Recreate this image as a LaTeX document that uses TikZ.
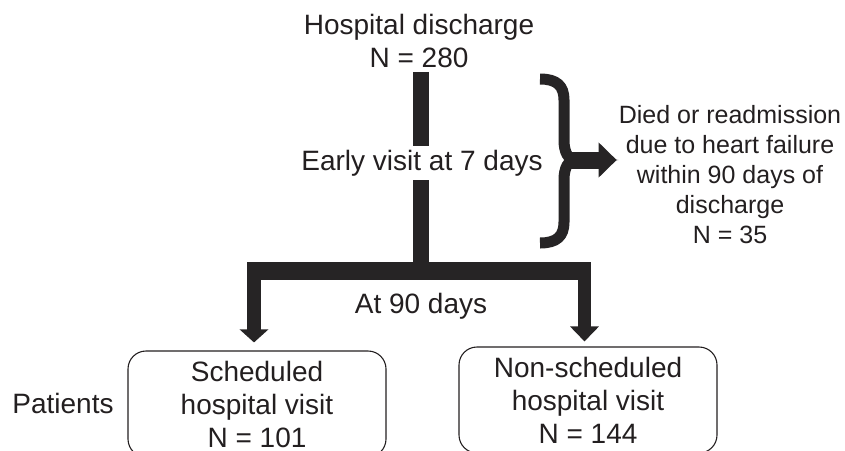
\documentclass[tikz,border=0pt]{standalone}
\usepackage{fontspec}
\setmainfont{Liberation Sans}
\usetikzlibrary{arrows.meta,calc}
\definecolor{ink}{HTML}{231F20}
\definecolor{barc}{HTML}{262425}
\begin{document}
\begin{tikzpicture}[x=1pt,y=-1pt,
  txt/.style={text=ink,align=center,inner sep=4pt,font=\fontsize{28}{33}\selectfont},
  small/.style={text=ink,align=center,inner sep=2pt,font=\fontsize{25}{30}\selectfont},
  box/.style={draw=ink,line width=1.1pt,rounded corners=18pt,minimum width=258pt,minimum height=106pt,
    text=ink,align=center,inner sep=0pt,font=\fontsize{28}{33}\selectfont},
  bar/.style={draw=barc,line cap=butt},
  brc/.style={draw=barc,line width=11pt,line cap=butt}
]
\useasboundingbox (0,0) rectangle (845,450);

% text nodes
\node[txt] (dis) at (419,41) {Hospital discharge\\N = 280};
\node[txt] (early) at (422,163) {Early visit at 7 days};
\node[txt] (at90) at (421,306) {At 90 days};
\node[small] (died) at (730,175) {Died or readmission\\due to heart failure\\within 90 days of\\discharge\\N = 35};
\node[txt] (pat) at (63,403) {Patients};
\node[box] (sch) at (257,404) {Scheduled\\hospital visit\\N = 101};
\node[box] (nsch) at (588,400) {Non-scheduled\\hospital visit\\N = 144};

% junction coordinates
\coordinate (j) at (421,271);
\coordinate (jl) at (254,271);
\coordinate (jr) at (584.5,271);
\coordinate (bp) at (576,160);

% main vertical bar
\draw[bar,line width=16pt] (j |- dis.south) -- (j |- early.north);
\draw[bar,line width=16pt,-{Triangle[width=32pt,length=17pt]}] (j |- early.south) -- ($(j)+(0,9)$);

% horizontal bar
\draw[bar,line width=18pt] ($(jl)+(-7,0)$) -- ($(jr)+(6.5,0)$);

% down arrows
\draw[bar,line width=14pt,-{Triangle[width=28pt,length=13pt]}] ($(jl)+(0,-9)$) -- (jl |- sch.north) [shorten >=8pt];
\draw[bar,line width=13pt,-{Triangle[width=28pt,length=15pt]}] ($(jr)+(0,-9)$) -- (jr |- nsch.north) [shorten >=5pt];

% brace
\draw[brc] (540,79) .. controls (557,79) and (564,86) .. (564,100) -- (564,140)
  .. controls (564,152) and (568,160) .. (bp)
  .. controls (568,160) and (564,168) .. (564,180) -- (564,222)
  .. controls (564,236) and (557,243) .. (540,243);

% arrow to outcome
\draw[bar,line width=17pt,-{Triangle[width=34pt,length=18pt]}] ($(bp)+(-6,0)$) -- (bp -| died.west);
\end{tikzpicture}
\end{document}
